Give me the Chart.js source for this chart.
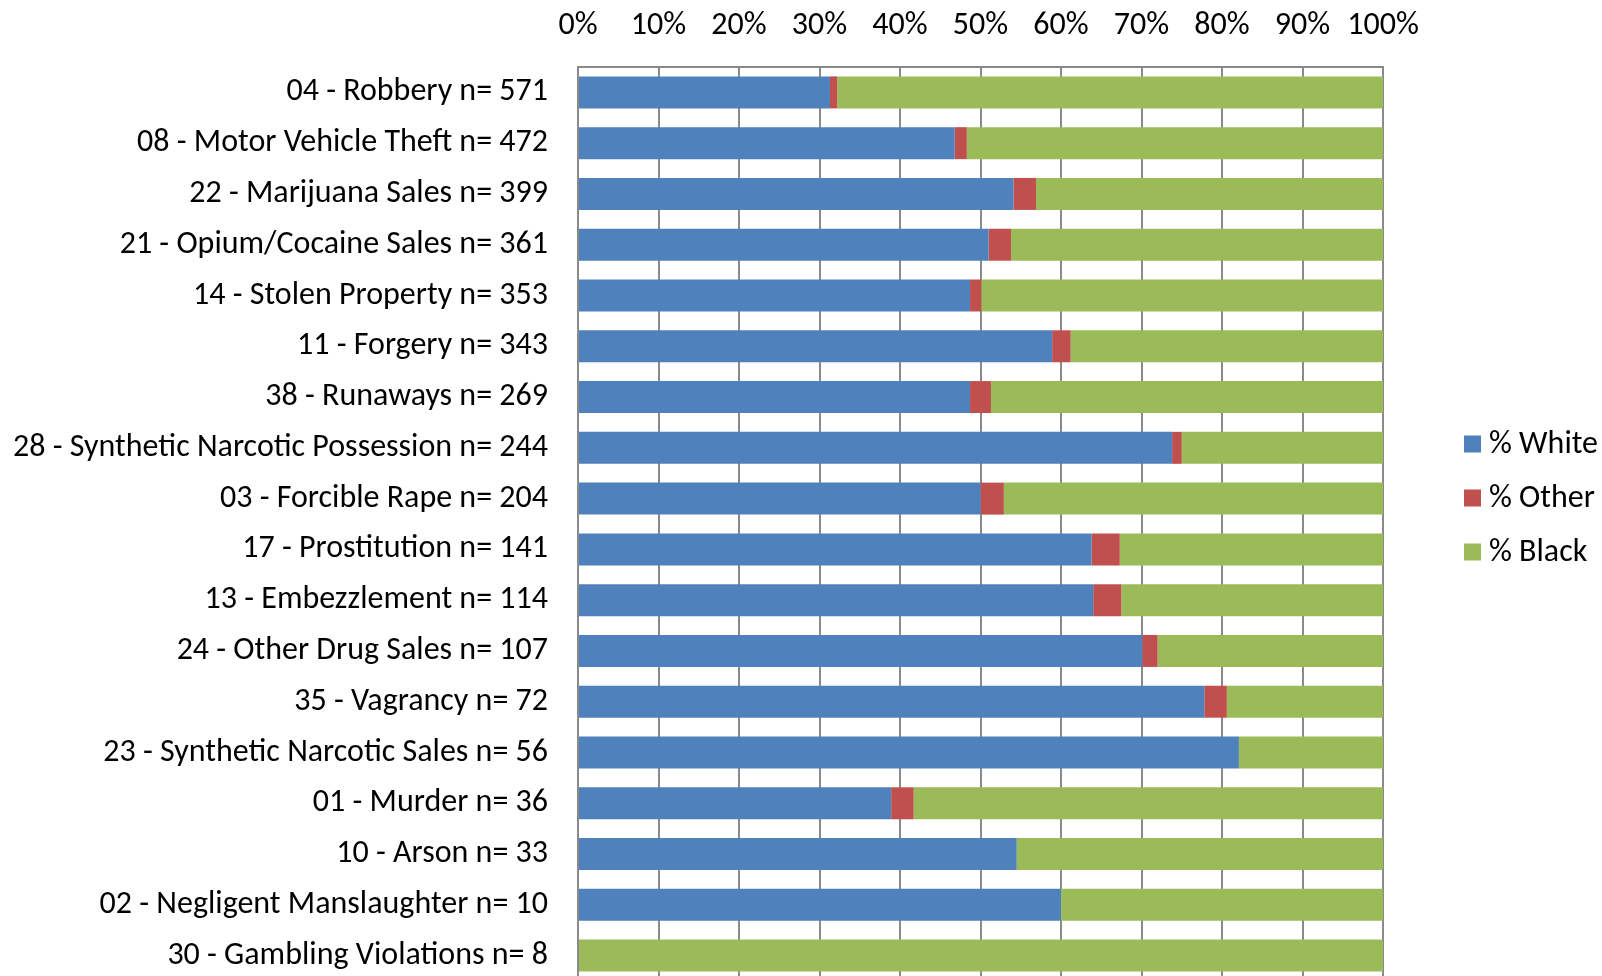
<!DOCTYPE html>
<html>
<head>
<meta charset="utf-8">
<script src="https://cdn.jsdelivr.net/npm/chart.js@4/dist/chart.umd.min.js"></script>
<style>
  html, body { margin: 0; padding: 0; background: #fff; overflow: hidden; }
  #wrap { position: relative; width: 1602px; height: 981px; }
</style>
</head>
<body>
<div id="wrap"><canvas id="race-chart"></canvas></div>
<script>
const categories = [
  '04 - Robbery n= 571',
  '08 - Motor Vehicle Theft n= 472',
  '22 - Marijuana Sales n= 399',
  '21 - Opium/Cocaine Sales n= 361',
  '14 - Stolen Property n= 353',
  '11 - Forgery n= 343',
  '38 - Runaways n= 269',
  '28 - Synthetic Narcotic Possession n= 244',
  '03 - Forcible Rape n= 204',
  '17 - Prostitution n= 141',
  '13 - Embezzlement n= 114',
  '24 - Other Drug Sales n= 107',
  '35 - Vagrancy n= 72',
  '23 - Synthetic Narcotic Sales n= 56',
  '01 - Murder n= 36',
  '10 - Arson n= 33',
  '02 - Negligent Manslaughter n= 10',
  '30 - Gambling Violations n= 8',
];
const pctWhite = [31.3, 46.8, 54.1, 51.0, 48.7, 58.9, 48.7, 73.8, 50.0, 63.8, 64.0, 70.1, 77.8, 82.1, 38.9, 54.5, 60.0, 0];
const pctOther = [0.9, 1.5, 2.8, 2.8, 1.4, 2.3, 2.6, 1.2, 2.9, 3.5, 3.5, 1.9, 2.8, 0, 2.8, 0, 0, 0];
const pctBlack = [67.8, 51.7, 43.1, 46.2, 49.9, 38.8, 48.7, 25.0, 47.1, 32.7, 32.5, 28.0, 19.4, 17.9, 58.3, 45.5, 40.0, 100];
const xTicks = [0, 10, 20, 30, 40, 50, 60, 70, 80, 90, 100];

const FONT = 'Carlito, Calibri, Lato, sans-serif';
const gridColor = '#8a8a8a';

// legend drawn at the right, like the Excel original
const sideLegend = {
  id: 'sideLegend',
  afterDraw(chart, args, opts) {
    const { ctx } = chart;
    ctx.save();
    ctx.font = `${opts.size}px ${FONT}`;
    ctx.textBaseline = 'middle';
    ctx.textAlign = 'left';
    chart.data.datasets.forEach((ds, i) => {
      const cy = opts.top + i * opts.step;
      ctx.fillStyle = ds.backgroundColor;
      ctx.fillRect(opts.x, cy - opts.box / 2, opts.box, opts.box);
      ctx.fillStyle = '#000';
      ctx.fillText(ds.label, opts.x + opts.box + 8, cy + 1);
    });
    ctx.restore();
  },
};

new Chart(document.getElementById('race-chart'), {
  type: 'bar',
  data: {
    labels: categories,
    datasets: [
      { label: '% White', data: pctWhite, backgroundColor: '#4f81bd' },
      { label: '% Other', data: pctOther, backgroundColor: '#c0504d' },
      { label: '% Black', data: pctBlack, backgroundColor: '#9bbb59' },
    ],
  },
  options: {
    indexAxis: 'y',
    responsive: true,
    maintainAspectRatio: false,
    animation: false,
    datasets: { bar: { categoryPercentage: 1, barPercentage: 0.63, borderWidth: 0 } },
    layout: { padding: { left: 0, right: 219, top: 0, bottom: 0 } },
    plugins: {
      legend: { display: false },
      tooltip: { enabled: false },
      sideLegend: { x: 1464, top: 444, step: 54, box: 17, size: 32 },
    },
    scales: {
      x: {
        position: 'top',
        stacked: true,
        min: 0,
        max: 100,
        afterBuildTicks: (scale) => { scale.ticks = xTicks.map((v) => ({ value: v })); },
        afterFit: (scale) => { scale.height = 67; },
        ticks: { color: '#000', font: { family: FONT, size: 32 }, padding: 22, callback: (v) => v + '%' },
        grid: { color: gridColor, lineWidth: 2, drawTicks: false },
        border: { display: true, color: gridColor, width: 2 },
      },
      y: {
        stacked: true,
        afterFit: (scale) => {
          scale.width = 578;
          scale.paddingTop = 0;
          scale.paddingBottom = 0;
        },
        ticks: { color: '#000', font: { family: FONT, size: 32 }, padding: 30 },
        grid: { display: false, drawTicks: false },
        border: { display: true, color: gridColor, width: 2 },
      },
    },
  },
  plugins: [sideLegend],
});
</script>
</body>
</html>
